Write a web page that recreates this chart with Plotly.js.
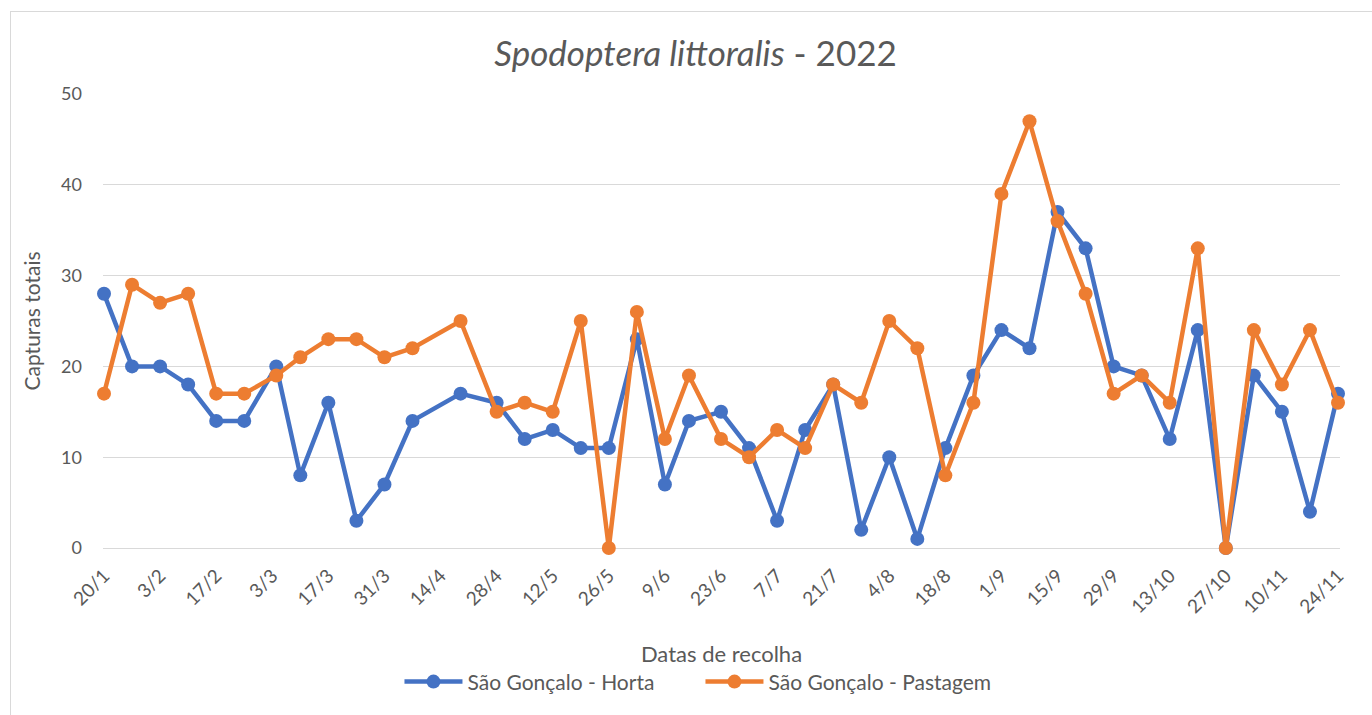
<!DOCTYPE html>
<html>
<head>
<meta charset="utf-8">
<script src="https://cdn.plot.ly/plotly-3.0.1.min.js"></script>
<style>
  html, body { margin: 0; padding: 0; background: #fff; }
  #wrap { position: relative; width: 1372px; height: 715px; overflow: hidden; }
  #chart { position: absolute; left: 0; top: 0; width: 1372px; height: 715px; }
  #frame { position: absolute; left: 10px; top: 11px; width: 1400px; height: 720px;
           border-left: 1px solid #d9d9d9; border-top: 1px solid #d9d9d9; pointer-events: none; }
</style>
</head>
<body>
<div id="wrap">
  <div id="chart"></div>
  <div id="frame"></div>
</div>
<script>
// Collection dates (2022)
const dates = [
  '2022-01-20','2022-01-27','2022-02-03','2022-02-10','2022-02-17','2022-02-24',
  '2022-03-04','2022-03-10','2022-03-17','2022-03-24','2022-03-31',
  '2022-04-07','2022-04-19','2022-04-28',
  '2022-05-05','2022-05-12','2022-05-19','2022-05-26',
  '2022-06-02','2022-06-09','2022-06-15','2022-06-23','2022-06-30',
  '2022-07-07','2022-07-14','2022-07-21','2022-07-28',
  '2022-08-04','2022-08-11','2022-08-18','2022-08-25',
  '2022-09-01','2022-09-08','2022-09-15','2022-09-22','2022-09-29',
  '2022-10-06','2022-10-13','2022-10-20','2022-10-27',
  '2022-11-03','2022-11-10','2022-11-17','2022-11-24'
];
const horta = [28,20,20,18,14,14, 20,8,16,3,7, 14,17,16, 12,13,11,11, 23,7,14,15,11, 3,13,18,2, 10,1,11,19, 24,22,37,33,20, 19,12,24,0, 19,15,4,17];
const pastagem = [17,29,27,28,17,17, 19,21,23,23,21, 22,25,15, 16,15,25,0, 26,12,19,12,10, 13,11,18,16, 25,22,8,16, 39,47,36,28,17, 19,16,33,0, 24,18,24,16];

const tickVals = ['2022-01-20','2022-02-03','2022-02-17','2022-03-03','2022-03-17','2022-03-31','2022-04-14','2022-04-28','2022-05-12','2022-05-26','2022-06-09','2022-06-23','2022-07-07','2022-07-21','2022-08-04','2022-08-18','2022-09-01','2022-09-15','2022-09-29','2022-10-13','2022-10-27','2022-11-10','2022-11-24'];
const tickText = ['20/1','3/2','17/2','3/3','17/3','31/3','14/4','28/4','12/5','26/5','9/6','23/6','7/7','21/7','4/8','18/8','1/9','15/9','29/9','13/10','27/10','10/11','24/11'];

const names = ['São Gonçalo - Horta', 'São Gonçalo - Pastagem'];
const colors = ['#4472C4', '#ED7D31'];
const FONT = 'Lato, "Open Sans", sans-serif';
const TXT = '#595959';

const traces = [horta, pastagem].map((vals, i) => ({
  type: 'scatter', mode: 'lines+markers',
  x: dates, y: vals, name: names[i],
  line: { color: colors[i], width: 4.5 },
  marker: { color: colors[i], size: 14 },
  cliponaxis: false,
  hoverinfo: 'skip'
}));

const layout = {
  width: 1372, height: 715,
  margin: { l: 103, r: 32, t: 94, b: 165 },
  paper_bgcolor: 'rgba(0,0,0,0)', plot_bgcolor: 'rgba(0,0,0,0)',
  font: { family: FONT, color: TXT },
  title: {
    text: '<i>Spodoptera littoralis</i> - 2022',
    font: { family: FONT, size: 35, color: TXT },
    x: 0.479, xref: 'paper', xanchor: 'center', y: 0.925, yanchor: 'middle'
  },
  xaxis: {
    type: 'date',
    range: ['2022-01-19 18:00', '2022-11-24 12:00'],
    tickvals: tickVals, ticktext: tickText,
    tickangle: -45,
    tickfont: { family: FONT, size: 19, color: TXT },
    showgrid: false, zeroline: false,
    showline: false, ticks: '',
    ticklabelstandoff: 12,
    title: { text: 'Datas de recolha', font: { family: FONT, size: 22, color: TXT }, standoff: 30 }
  },
  yaxis: {
    range: [0, 50], dtick: 10, tick0: 0,
    tickfont: { family: FONT, size: 18, color: TXT },
    gridcolor: '#d9d9d9', gridwidth: 1,
    zeroline: true, zerolinecolor: '#d9d9d9', zerolinewidth: 1,
    showline: false, ticks: '', ticklabelstandoff: 20,
    title: { text: 'Capturas totais', font: { family: FONT, size: 21, color: TXT }, standoff: 14 }
  },
  showlegend: true,
  legend: {
    orientation: 'h', x: 0.483, xanchor: 'center', y: -0.295, yanchor: 'middle',
    font: { family: FONT, size: 21, color: TXT },
    itemwidth: 58, entrywidth: 228, entrywidthmode: 'pixels',
    tracegroupgap: 0, bgcolor: 'rgba(0,0,0,0)'
  }
};

Plotly.newPlot('chart', traces, layout, { displayModeBar: false, staticPlot: true });
</script>
</body>
</html>
